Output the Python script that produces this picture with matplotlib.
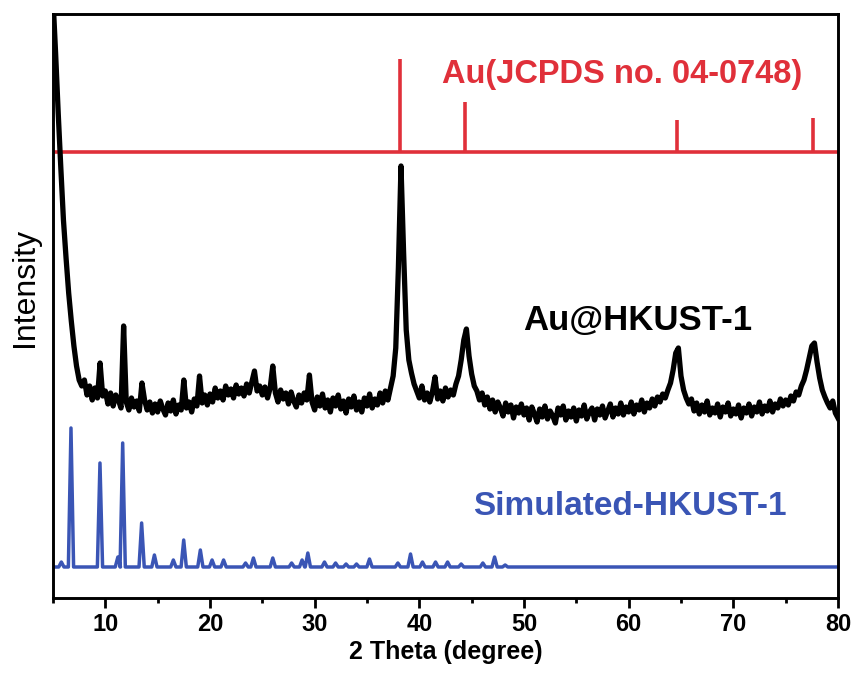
import numpy as np
import matplotlib
matplotlib.use('Agg')
import matplotlib.pyplot as plt
from matplotlib.ticker import MultipleLocator

plt.rcParams['font.family'] = ['Liberation Sans', 'DejaVu Sans']

# Au reference (JCPDS 04-0748): stick positions / tops, baseline
au_base = 446
au_pos = [38.2, 44.4, 64.6, 77.6]
au_top = [539, 496, 478, 480]

# measured Au@HKUST-1 pattern, sampled every 0.25 deg from 5 to 80
black_x = np.arange(5, 80.01, 0.25)
black_y = [
    600, 545, 485, 430, 378, 340, 305, 277, 252, 232, 218, 212, 218, 203, 212, 198, 210, 200, 235, 202,
    207, 194, 205, 192, 203, 198, 190, 272, 196, 188, 200, 191, 197, 187, 215, 198, 188, 196, 185, 194,
    186, 197, 189, 183, 195, 187, 198, 184, 193, 188, 218, 190, 196, 186, 199, 192, 222, 195, 203, 193,
    204, 196, 210, 200, 207, 198, 212, 203, 209, 200, 213, 204, 210, 202, 214, 205, 216, 227, 207, 212,
    203, 211, 200, 210, 232, 205, 196, 208, 199, 205, 194, 206, 197, 191, 203, 195, 205, 198, 223, 196,
    188, 201, 192, 204, 190, 198, 186, 200, 192, 203, 189, 197, 185, 199, 191, 202, 188, 196, 186, 200,
    192, 204, 190, 199, 193, 205, 195, 207, 198, 210, 222, 250, 330, 432, 345, 268, 238, 225, 214, 207,
    200, 212, 198, 205, 196, 206, 221, 199, 207, 197, 210, 201, 208, 203, 214, 222, 238, 258, 269, 242,
    224, 212, 207, 198, 205, 193, 201, 189, 198, 186, 196, 190, 182, 195, 186, 193, 180, 191, 185, 194,
    183, 190, 178, 191, 184, 176, 189, 181, 192, 179, 187, 182, 175, 190, 183, 192, 178, 187, 181, 190,
    177, 188, 182, 193, 179, 186, 190, 178, 189, 183, 192, 180, 187, 194, 181, 190, 184, 195, 183, 191,
    186, 196, 184, 193, 188, 198, 186, 195, 190, 199, 192, 201, 196, 204, 200, 208, 215, 228, 245, 250,
    222, 208, 200, 194, 199, 187, 195, 184, 193, 186, 197, 183, 190, 185, 194, 181, 191, 186, 195, 182,
    189, 184, 193, 180, 190, 185, 194, 182, 191, 186, 196, 184, 192, 187, 197, 186, 194, 190, 199, 192,
    198, 193, 202, 197, 206, 203, 212, 218, 228, 240, 252, 255, 236, 220, 208, 201, 195, 190, 197, 185,
    180,
]

# simulated HKUST-1 pattern: peak positions and tops
sim_base = 31
sim_pos = [5.8, 6.72, 9.49, 11.2, 11.66, 13.47, 14.69, 16.5, 17.49, 19.08, 20.2, 21.3, 23.4, 24.15,
           26.0, 27.8, 28.8, 29.35, 30.94, 32.0, 33.0, 34.0, 35.24, 37.95, 39.16, 40.3, 41.55, 42.7,
           44.0, 46.07, 47.19, 48.2]
sim_top = [36, 170, 135, 41, 155, 75, 43, 38, 58, 48, 38, 38, 35, 40,
           40, 35, 38, 45, 36, 35, 34, 34, 39, 35, 44, 36, 36, 36,
           34, 35, 41, 33]

sim_x = [5.0]
sim_y = [sim_base]
for p, t in zip(sim_pos, sim_top):
    sim_x += [p - 0.25, p, p + 0.25]
    sim_y += [sim_base, t, sim_base]
sim_x.append(80.0)
sim_y.append(sim_base)

fig = plt.figure(figsize=(8.6, 6.79), dpi=100)
ax = fig.add_axes([0.0616, 0.1193, 0.9128, 0.8601])

red = '#e0303a'
blue = '#3a55b5'

ax.axhline(au_base, color=red, lw=2.6)
ax.vlines(au_pos, au_base, au_top, color=red, lw=2.6)
ax.plot(black_x, black_y, color='black', lw=3.8)
ax.plot(sim_x, sim_y, color=blue, lw=2.5)

ax.text(42.2, 523, 'Au(JCPDS no. 04-0748)', color=red, fontsize=23.5, fontweight='bold', va='center', ha='left')
ax.text(49.9, 277, 'Au@HKUST-1', color='black', fontsize=25, fontweight='bold', va='center', ha='left')
ax.text(45.1, 91, 'Simulated-HKUST-1', color=blue, fontsize=24, fontweight='bold', va='center', ha='left')

ax.set_xlim(5, 80)
ax.set_ylim(0, 584)
ax.xaxis.set_major_locator(MultipleLocator(10))
ax.xaxis.set_minor_locator(MultipleLocator(5))
ax.set_yticks([])
ax.tick_params(axis='x', which='major', direction='out', length=7, width=2, labelsize=17)
ax.tick_params(axis='x', which='minor', direction='out', length=3.5, width=2)
for lab in ax.get_xticklabels():
    lab.set_fontweight('bold')
for s in ax.spines.values():
    s.set_linewidth(2.1)

ax.set_xlabel('2 Theta (degree)', fontsize=18, fontweight='bold', labelpad=3)
ax.set_ylabel('Intensity', fontsize=23)
ax.yaxis.set_label_coords(-0.017, 0.531)

fig.savefig('out.png', dpi=100)
